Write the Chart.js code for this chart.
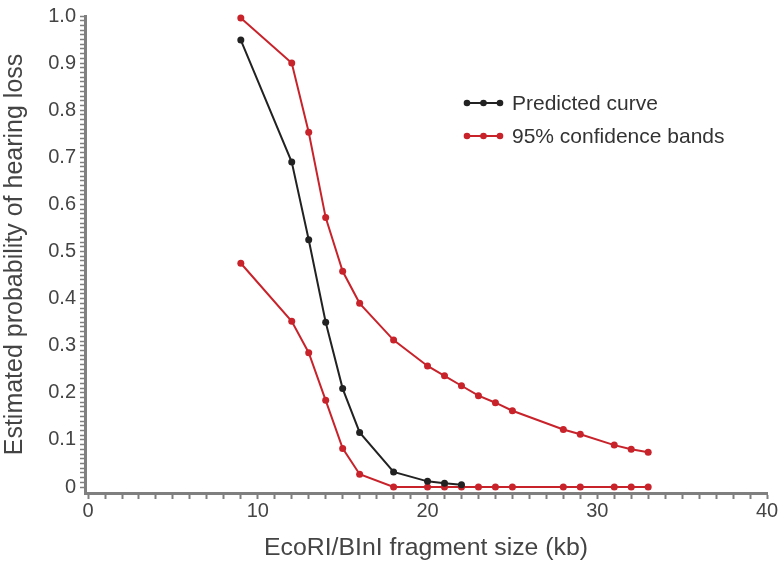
<!DOCTYPE html>
<html>
<head>
<meta charset="utf-8">
<script src="https://cdn.jsdelivr.net/npm/chart.js@4.4.1/dist/chart.umd.min.js"></script>
<style>
  html, body { margin: 0; padding: 0; background: #fff; }
  #wrap { width: 782px; height: 563px; }
</style>
</head>
<body>
<div id="wrap"><canvas id="chart" width="782" height="563"></canvas></div>
<script>
// fragment sizes (kb)
const predX = [9, 12, 13, 14, 15, 16, 18, 20, 21, 22];
const predY = [0.949, 0.69, 0.525, 0.35, 0.209, 0.116, 0.032, 0.012, 0.008, 0.005];

const bandX = [9, 12, 13, 14, 15, 16, 18, 20, 21, 22, 23, 24, 25, 28, 29, 31, 32, 33];
const upperY = [0.996, 0.9, 0.753, 0.572, 0.458, 0.39, 0.312, 0.257, 0.236, 0.215,
                0.194, 0.179, 0.162, 0.122, 0.112, 0.089, 0.08, 0.074];
const lowerY = [0.475, 0.352, 0.285, 0.184, 0.082, 0.027, 0, 0, 0, 0,
                0, 0, 0, 0, 0, 0, 0, 0];

const xTicks = Array.from({ length: 41 }, (_, i) => i);
const yTicks = Array.from({ length: 101 }, (_, i) => i / 100);

const legendItems = [
  { label: "Predicted curve", color: "#222222" },
  { label: "95% confidence bands", color: "#c8232b" },
];

const FONT = "'Liberation Sans', Arial, Helvetica, sans-serif";
const AXIS = "#7f7f7f";
const TEXT = "#444444";

const pts = (xs, ys) => xs.map((x, i) => ({ x, y: ys[i] }));

const lineStyle = (color) => ({
  borderColor: color,
  backgroundColor: color,
  pointBackgroundColor: color,
  pointBorderColor: color,
  borderWidth: 2,
  pointRadius: 3.5,
  pointBorderWidth: 0,
  tension: 0,
  clip: false,
});

// legend drawn inside the plot, line with three dots
const insideLegend = {
  id: "insideLegend",
  afterDraw(chart) {
    const ctx = chart.ctx;
    ctx.save();
    ctx.font = `21px ${FONT}`;
    ctx.textBaseline = "middle";
    legendItems.forEach((it, i) => {
      const y = 103 + i * 33;
      ctx.strokeStyle = it.color;
      ctx.fillStyle = it.color;
      ctx.lineWidth = 2;
      ctx.beginPath();
      ctx.moveTo(467, y);
      ctx.lineTo(500, y);
      ctx.stroke();
      [467, 483.5, 500].forEach((x) => {
        ctx.beginPath();
        ctx.arc(x, y, 3.3, 0, Math.PI * 2);
        ctx.fill();
      });
      ctx.fillStyle = "#333333";
      ctx.fillText(it.label, 512, y + 1);
    });
    ctx.restore();
  },
};

new Chart(document.getElementById("chart"), {
  type: "line",
  data: {
    datasets: [
      { label: "Predicted curve", data: pts(predX, predY), ...lineStyle("#222222") },
      { label: "95% confidence bands", data: pts(bandX, upperY), ...lineStyle("#c8232b") },
      { label: "lower band", data: pts(bandX, lowerY), ...lineStyle("#c8232b") },
    ],
  },
  options: {
    responsive: false,
    animation: false,
    layout: { padding: { top: 13, right: 15, left: 0, bottom: 0 } },
    plugins: { legend: { display: false }, tooltip: { enabled: false } },
    scales: {
      x: {
        type: "linear",
        min: -0.18,
        max: 40,
        afterBuildTicks: (s) => { s.ticks = xTicks.map((v) => ({ value: v })); },
        afterFit: (s) => { s.height = 70; },
        border: { display: true, color: AXIS, width: 3 },
        grid: { drawOnChartArea: false, drawTicks: true, tickLength: 6, color: AXIS, tickWidth: 2 },
        ticks: {
          autoSkip: false,
          maxRotation: 0,
          padding: 0,
          color: TEXT,
          font: { family: FONT, size: 20 },
          callback: (v) => (v % 10 === 0 ? String(v) : ""),
        },
        title: {
          display: true,
          text: "EcoRI/BInI fragment size (kb)",
          color: TEXT,
          font: { family: FONT, size: 24.8 },
          padding: { top: 0, bottom: 0 },
        },
      },
      y: {
        type: "linear",
        min: -0.0127,
        max: 1.0,
        afterBuildTicks: (s) => { s.ticks = yTicks.map((v) => ({ value: v })); },
        afterFit: (s) => { s.width = 85; },
        border: { display: true, color: AXIS, width: 3 },
        grid: { drawOnChartArea: false, drawTicks: true, tickLength: 5, color: AXIS, tickWidth: 1.5 },
        ticks: {
          autoSkip: false,
          padding: 4,
          color: TEXT,
          font: { family: FONT, size: 20 },
          callback: (v) => {
            const k = Math.round(v * 100);
            if (k % 10 !== 0) return "";
            return k === 0 ? "0" : (k / 100).toFixed(1);
          },
        },
        title: {
          display: true,
          text: "Estimated probability of hearing loss",
          color: TEXT,
          font: { family: FONT, size: 25 },
          padding: { top: 0, bottom: 0 },
        },
      },
    },
  },
  plugins: [insideLegend],
});
</script>
</body>
</html>
